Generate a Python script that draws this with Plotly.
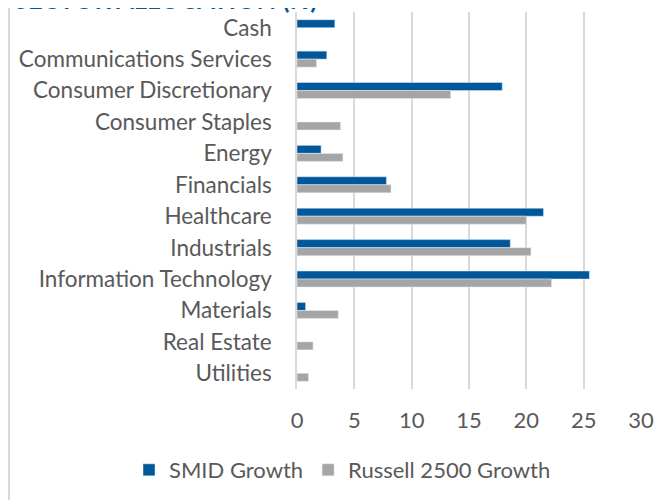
import plotly.graph_objects as go

categories = ["Cash", "Communications Services", "Consumer Discretionary", "Consumer Staples",
              "Energy", "Financials", "Healthcare", "Industrials", "Information Technology",
              "Materials", "Real Estate", "Utilities"]
smid_growth = [3.3, 2.6, 17.9, None, 2.1, 7.8, 21.5, 18.6, 25.5, 0.75, None, None]
russell_2500_growth = [None, 1.7, 13.4, 3.8, 4.0, 8.2, 20.0, 20.4, 22.2, 3.6, 1.4, 1.0]
x_ticks = [0, 5, 10, 15, 20, 25, 30]

BLUE = "#00579A"
GRAY = "#A5A5A5"
TXT = "#595959"
FONT = "Lato"

# page body has an 8px margin, so the figure is sized to fit the 672x500 window
W, H = 664, 492
L, R, T, B = 289, 31, 4, 111
pw, ph = W - L - R, H - T - B

fig = go.Figure()
fig.add_trace(go.Bar(y=categories, x=smid_growth, orientation="h", name="SMID Growth",
                     marker=dict(color=BLUE)))
fig.add_trace(go.Bar(y=categories, x=russell_2500_growth, orientation="h",
                     name="Russell 2500 Growth", marker=dict(color=GRAY)))

def px_x(p):
    return (p - L) / pw

def px_y(p):
    return 1 - (p - T) / ph

fig.update_layout(
    width=W, height=H,
    margin=dict(l=L, r=R, t=T, b=B, autoexpand=False),
    paper_bgcolor="white", plot_bgcolor="white",
    barmode="group", bargap=0.49, bargroupgap=0,
    font=dict(family=FONT, size=22, color=TXT),
    showlegend=True,
    legend=dict(orientation="h", xref="paper", yref="paper",
                x=px_x(121), y=px_y(462), xanchor="left", yanchor="middle",
                font=dict(size=22, color=TXT), itemwidth=30, traceorder="normal"),
    xaxis=dict(range=[0, 30], tickvals=x_ticks, showgrid=True, gridcolor="#D9D9D9",
               gridwidth=1.5, zeroline=False, showline=False, ticks="outside",
               ticklen=12, tickcolor="rgba(0,0,0,0)", tickfont=dict(size=22, color=TXT),
               automargin=False, fixedrange=True),
    yaxis=dict(autorange="reversed", showgrid=False, showline=True, linecolor="#D9D9D9",
               linewidth=1.5, ticks="outside", ticklen=19, tickcolor="rgba(0,0,0,0)",
               tickfont=dict(size=22.5, color=TXT), automargin=False, fixedrange=True),
)

fig.add_annotation(text="<b>SECTOR ALLOCATION (%)</b>", xref="paper", yref="paper",
                   x=px_x(4), y=px_y(8), xanchor="left", yanchor="bottom",
                   showarrow=False, font=dict(family=FONT, size=25.5, color=BLUE))

fig.add_shape(type="line", xref="paper", yref="paper", x0=px_x(1), x1=px_x(1),
              y0=px_y(0), y1=px_y(H), line=dict(color="#D9D9D9", width=2))

fig.write_html("out.html")
